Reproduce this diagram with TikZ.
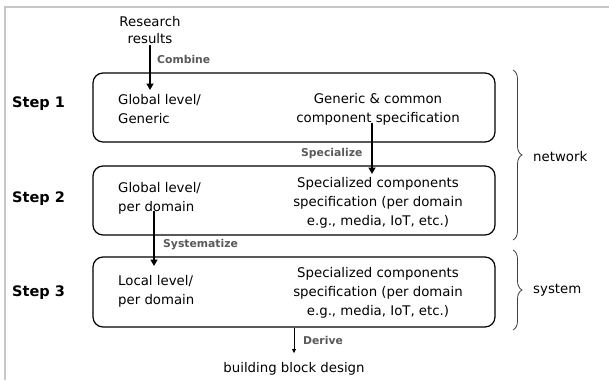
\documentclass[tikz,border=0pt]{standalone}
\usepackage{fontspec}
\setmainfont{DejaVu Sans}
\usetikzlibrary{decorations.pathreplacing,arrows.meta}
\begin{document}
\begin{tikzpicture}[x=1pt,y=-1pt,
  box/.style={draw, rounded corners=10pt, line width=1.2pt, minimum width=402pt, inner sep=0pt},
  txt/.style={font=\fontsize{13.3}{19}\selectfont, inner sep=0pt},
  steplbl/.style={font=\fontsize{14.5}{16}\selectfont\bfseries, anchor=west, inner sep=0pt},
  actlbl/.style={font=\fontsize{10.8}{12}\selectfont\bfseries, text=black!65, anchor=west, inner sep=0pt},
  thickarrow/.style={line width=2.3pt, -{Triangle[width=7pt,length=6.5pt]}},
  thinarrow/.style={line width=0.8pt, -{Triangle[width=4pt,length=4pt]}},
  bracestyle/.style={decorate, decoration={brace, amplitude=9pt}, line width=0.8pt, draw=black!75}
]
\useasboundingbox (0,0) rectangle (609,380);
% frame
\draw[black!22, line width=2pt] (5,380) -- (5,7) -- (609,7);

% boxes
\node[box, minimum height=69pt] (b1) at (294,107.5) {};
\node[box, minimum height=69pt] (b2) at (294,200.5) {};
\node[box, minimum height=70pt] (b3) at (294,292) {};

% step labels
\node[steplbl] (s1) at (12,104) {Step 1};
\node[steplbl] (s2) at (12,199) {Step 2};
\node[steplbl] (s3) at (12,293) {Step 3};

% texts
\node[txt, align=center, font=\fontsize{13.3}{17}\selectfont] (rr) at (150,30) {Research\\results};
\node[txt, align=left, anchor=west] (g1) at (118,109) {Global level/\\Generic};
\node[txt, align=center] (r1) at (378,109) {Generic \& common\\component specification};
\node[txt, align=left, anchor=west] (g2) at (118,198) {Global level/\\per domain};
\node[txt, align=center] (r2) at (378,203) {Specialized components\\specification (per domain\\e.g., media, IoT, etc.)};
\node[txt, align=left, anchor=west] (g3) at (118,291) {Local level/\\per domain};
\node[txt, align=center] (r3) at (378,293) {Specialized components\\specification (per domain\\e.g., media, IoT, etc.)};
\node[txt] (bbd) at (294,369) {building block design};

% arrows
\coordinate (a1e) at (150,90);
\coordinate (a2s) at (372,123);
\coordinate (a2e) at (372,174);
\coordinate (a3s) at (154,211);
\coordinate (a3e) at (154,266);
\coordinate (a4e) at (294,353);
\draw[thickarrow] ([yshift=-1pt]rr.south) -- (a1e);
\draw[thickarrow] (a2s) -- (a2e);
\draw[thickarrow] (a3s) -- (a3e);
\draw[thinarrow] (b3.south) -- (a4e);

% action labels
\node[actlbl] (lc) at (157,59) {Combine};
\node[actlbl] (ls) at (301,154) {Specialize};
\node[actlbl] (lsy) at (163,245) {Systematize};
\node[actlbl] (ld) at (303,340) {Derive};

% braces
\coordinate (n1) at (513,70);
\coordinate (n2) at (513,240);
\coordinate (m1) at (513,250);
\coordinate (m2) at (513,330);
\draw[bracestyle] (n1) -- (n2);
\draw[bracestyle] (m1) -- (m2);
\node[txt, anchor=west] (net) at (533,157) {network};
\node[txt, anchor=west] (sys) at (533,290) {system};
\end{tikzpicture}
\end{document}
